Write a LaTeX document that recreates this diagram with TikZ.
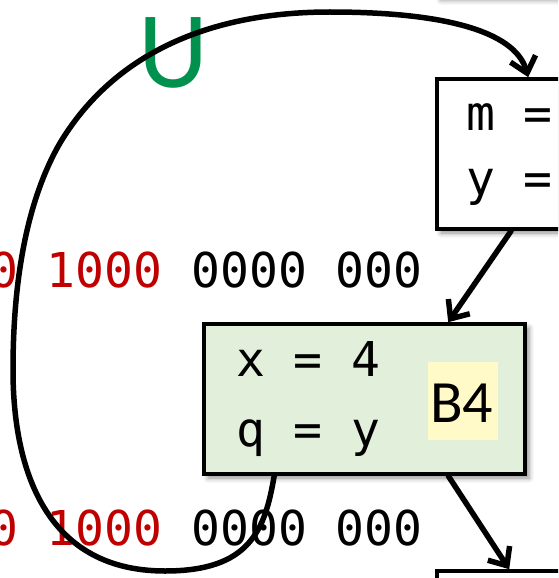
\documentclass[tikz,border=0pt]{standalone}
\usepackage{fontspec}
\newfontfamily\codefont{DejaVu Sans Mono}
\newfontfamily\labelfont{Carlito}
\usetikzlibrary{arrows.meta,shadows.blur,calc}
\definecolor{bgreen}{RGB}{226,239,218}
\definecolor{hlyellow}{RGB}{255,250,200}
\definecolor{ured}{RGB}{192,0,0}
\definecolor{ugreen}{RGB}{0,145,79}
\begin{document}
\begin{tikzpicture}[x=1pt,y=-1pt,
 blk/.style={draw=black,line width=3.6pt,rectangle,inner sep=0pt,
   blur shadow={shadow xshift=4pt,shadow yshift=-4pt,shadow blur radius=5pt,shadow opacity=45}},
 code/.style={font=\codefont\fontsize{48}{48}\selectfont,inner sep=0pt,anchor=base west},
 edge/.style={line width=5.5pt,line cap=round,-{Straight Barb[length=15pt,width=26pt]}}]
\useasboundingbox (0,0) rectangle (558,578);
\clip (0,0) rectangle (558,578);
% binary rows (behind)
\node[code] (row1) at (-11,287) {\textcolor{ured}{0 1000} 0000 000};
\node[code] (row2) at (-11,545) {\textcolor{ured}{0 1000} 0000 000};
% green label
\node[font=\labelfont\fontsize{109}{109}\selectfont,text=ugreen,inner sep=0pt,anchor=base west] (U) at (138,87) {U};
% boxes
\node[blk,fill=white,minimum width=243pt,minimum height=150pt] (top) at (558.5,-79) {};
\node[blk,fill=white,minimum width=243pt,minimum height=150pt] (mbox) at (558.5,154) {};
\node[blk,fill=bgreen,minimum width=321pt,minimum height=150pt] (B4) at (364.5,399) {};
\node[blk,fill=white,minimum width=243pt,minimum height=150pt] (bot) at (558.5,646) {};
% box texts
\node[code] (mtxt) at (466,130) {m =};
\node[code] (ytxt) at (466,195) {y =};
\node[code] (xtxt) at (236,376) {x = 4};
\node[code] (qtxt) at (236,446) {q = y};
\node[fill=hlyellow,minimum width=70pt,minimum height=78pt,inner sep=0pt] (hl) at (463,401) {};
\node[font=\labelfont\fontsize{60}{60}\selectfont,inner sep=0pt,anchor=base west] (lbl) at (430,422) {B4};
% connectors
\draw[edge] ($(mbox.south west)+(76,0)$) -- ($(B4.north west)+(246,0)$);
\draw[edge] ($(B4.south west)+(246,0)$) -- ($(bot.north west)+(74,0)$);
\draw[edge] ($(B4.south west)+(72,0)$) .. controls (265,530) and (250,571) .. (165,571)
  .. controls (40,571) and (13,460) .. (13,370)
  .. controls (13,270) and (30,195) .. (60,143)
  .. controls (110,60) and (200,12) .. (330,12)
  .. controls (440,12) and (515,30) .. ($(mbox.north west)+(93,0)$);
\end{tikzpicture}
\end{document}
